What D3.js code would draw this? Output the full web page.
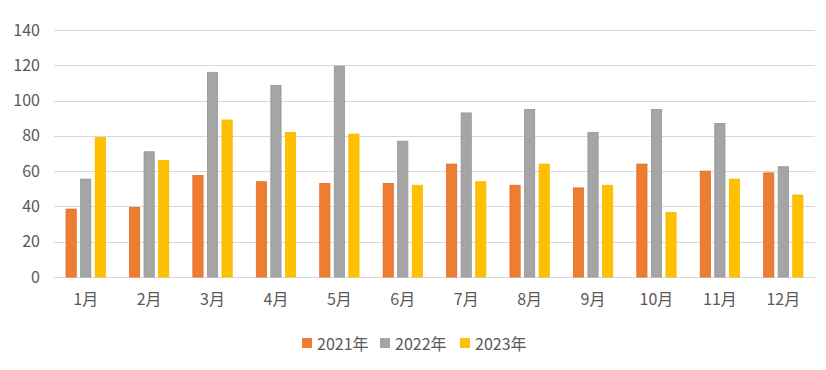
<!DOCTYPE html>
<html>
<head>
<meta charset="utf-8">
<script src="https://cdn.jsdelivr.net/npm/d3@7"></script>
<style>
	body { margin: 0; background: #fff; }
	text { font-family: "Noto Sans CJK SC", "DejaVu Sans", sans-serif; fill: #595959; }
</style>
</head>
<body>
<div id="chart"></div>
<script>
var months = ["1月","2月","3月","4月","5月","6月","7月","8月","9月","10月","11月","12月"];
var seriesNames = ["2021年", "2022年", "2023年"];
var values2021 = [38.5, 39.5, 57.5, 54, 53, 53, 64, 52, 50.5, 64, 60, 59];
var values2022 = [55.5, 71, 116, 108.5, 119.5, 77, 93, 95, 82, 95, 87, 62.5];
var values2023 = [79, 66, 89, 82, 81, 52, 54, 64, 52, 36.5, 55.5, 46.5];
var yTicks = [0, 20, 40, 60, 80, 100, 120, 140];
var colors = ["#ED7D31", "#A5A5A5", "#FFC000"];
var strokes = ["#E2692A", "#959595", "#F5B800"];

var width = 826, height = 370,
	padding = { top: 30, right: 11, bottom: 93, left: 54 },
	plotW = width - padding.left - padding.right,
	plotH = height - padding.top - padding.bottom;

var series = [values2021, values2022, values2023];
var rows = months.map(function(m, i) {
	return { month: m, vals: series.map(function(s) { return s[i]; }) };
});

var xScale = d3.scaleBand().domain(months).range([0, plotW]).paddingInner(0.38).paddingOuter(0.19);
var xInner = d3.scaleBand().domain(d3.range(3)).range([0, xScale.bandwidth()]).paddingInner(0.3);
var yScale = d3.scaleLinear().domain([0, 140]).range([plotH, 0]);

var svg = d3.select("#chart").append("svg")
	.attr("width", width)
	.attr("height", height)
	.append("g")
	.attr("transform", "translate(" + padding.left + "," + padding.top + ")");

// gridlines
svg.append("g")
	.attr("class", "grid")
	.selectAll("line")
	.data(yTicks)
	.enter().append("line")
	.attr("x1", 0)
	.attr("x2", plotW)
	.attr("y1", function(d) { return Math.round(yScale(d)) + 0.5; })
	.attr("y2", function(d) { return Math.round(yScale(d)) + 0.5; })
	.attr("stroke", "#D9D9D9")
	.attr("stroke-width", 1.2);

// y axis labels
var yAxis = d3.axisLeft(yScale).tickValues(yTicks).tickSize(0).tickPadding(14);
var gy = svg.append("g").attr("class", "axis axis-y").call(yAxis);
gy.select(".domain").remove();
gy.selectAll("text").style("font-size", "16px").attr("fill", "#595959");

// x axis labels
var xAxis = d3.axisBottom(xScale).tickSize(0).tickPadding(17);
var gx = svg.append("g").attr("class", "axis axis-x")
	.attr("transform", "translate(0," + plotH + ")")
	.call(xAxis);
gx.select(".domain").remove();
gx.selectAll("text").style("font-size", "16px").attr("fill", "#595959");

// bars
var groups = svg.selectAll(".month")
	.data(rows)
	.enter().append("g")
	.attr("class", "month")
	.attr("transform", function(d) { return "translate(" + xScale(d.month) + ",0)"; });

groups.selectAll("rect")
	.data(function(d) { return d.vals; })
	.enter().append("rect")
	.attr("x", function(d, i) { return xInner(i); })
	.attr("y", function(d) { return yScale(d); })
	.attr("width", xInner.bandwidth())
	.attr("height", function(d) { return plotH - yScale(d); })
	.attr("fill", function(d, i) { return colors[i]; })
	.attr("stroke", function(d, i) { return strokes[i]; })
	.attr("stroke-width", 0.8);

// legend
var legend = d3.select("svg").append("g")
	.attr("class", "legend")
	.attr("transform", "translate(302,344)");
var itemX = [0, 78, 158];
var items = legend.selectAll("g")
	.data(seriesNames)
	.enter().append("g")
	.attr("transform", function(d, i) { return "translate(" + itemX[i] + ",0)"; });
items.append("rect")
	.attr("x", 0)
	.attr("y", -6)
	.attr("width", 10)
	.attr("height", 10)
	.attr("fill", function(d, i) { return colors[i]; });
items.append("text")
	.attr("x", 15)
	.attr("y", 0)
	.attr("dy", "0.35em")
	.style("font-size", "16px")
	.text(function(d) { return d; });
</script>
</body>
</html>
